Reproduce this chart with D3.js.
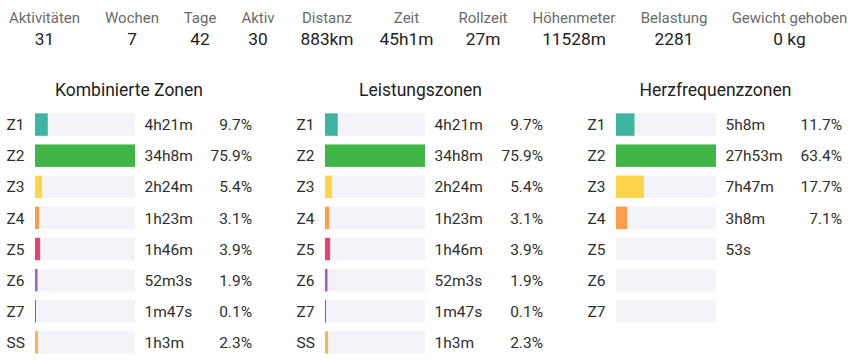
<!DOCTYPE html>
<html>
<head>
<meta charset="utf-8">
<script src="https://cdn.jsdelivr.net/npm/d3@7"></script>
<style>
  html, body { margin: 0; padding: 0; background: #fff; }
  svg { display: block; font-family: Roboto, "Noto Sans", sans-serif; }
</style>
</head>
<body>
<div id="chart"></div>
<script>
// summary row
const summaryLabels = ["Aktivitäten", "Wochen", "Tage", "Aktiv", "Distanz", "Zeit", "Rollzeit", "Höhenmeter", "Belastung", "Gewicht gehoben"];
const summaryValues = ["31", "7", "42", "30", "883km", "45h1m", "27m", "11528m", "2281", "0 kg"];

// zone panels
const zoneLabels = ["Z1", "Z2", "Z3", "Z4", "Z5", "Z6", "Z7", "SS"];
const hrZoneLabels = ["Z1", "Z2", "Z3", "Z4", "Z5", "Z6", "Z7"];

const combinedTimes = ["4h21m", "34h8m", "2h24m", "1h23m", "1h46m", "52m3s", "1m47s", "1h3m"];
const combinedPct = [9.7, 75.9, 5.4, 3.1, 3.9, 1.9, 0.1, 2.3];

const powerTimes = ["4h21m", "34h8m", "2h24m", "1h23m", "1h46m", "52m3s", "1m47s", "1h3m"];
const powerPct = [9.7, 75.9, 5.4, 3.1, 3.9, 1.9, 0.1, 2.3];

const hrTimes = ["5h8m", "27h53m", "7h47m", "3h8m", "53s", "", ""];
const hrPct = [11.7, 63.4, 17.7, 7.1, null, null, null];

const panelTitles = ["Kombinierte Zonen", "Leistungszonen", "Herzfrequenzzonen"];

const zoneColors = {
    Z1: "#3db5a0", Z2: "#3eb544", Z3: "#fdd54a", Z4: "#fd9c4b",
    Z5: "#e5436f", Z6: "#9461d9", Z7: "#6e6a80", SS: "#fdb44b"
};

const width = 862, height = 361;
const svg = d3.select("#chart").append("svg")
    .attr("width", width)
    .attr("height", height);

// ---- summary row (column centres follow the inline layout of the page)
const summaryX = [44.5, 132, 200, 258, 327, 406.5, 483, 574, 674, 789.5];
const summary = svg.selectAll("g.stat")
    .data(summaryLabels.map((label, i) => ({ label, value: summaryValues[i] })))
    .enter()
    .append("g")
    .attr("class", "stat")
    .attr("transform", (d, i) => `translate(${summaryX[i]},0)`);

summary.append("text")
    .attr("y", 22.5)
    .attr("text-anchor", "middle")
    .attr("font-size", 15)
    .attr("fill", "#6b6b6b")
    .text(d => d.label);

summary.append("text")
    .attr("y", 45)
    .attr("text-anchor", "middle")
    .attr("font-size", 17.3)
    .attr("fill", "#222")
    .text(d => d.value);

// ---- zone panels
const panels = [
    { title: panelTitles[0], zones: zoneLabels, times: combinedTimes, pct: combinedPct },
    { title: panelTitles[1], zones: zoneLabels, times: powerTimes, pct: powerPct },
    { title: panelTitles[2], zones: hrZoneLabels, times: hrTimes, pct: hrPct }
];
// layout per panel: bar start, title offset, percent column offset
const layout = [
    { x: 35, title: 94, pctRight: 217 },
    { x: 325, title: 95.5, pctRight: 218 },
    { x: 616, title: 99.5, pctRight: 226 }
];

const barW = 100;
const y = d3.scaleBand()
    .domain(zoneLabels)
    .range([109, 358])
    .paddingInner(0.28)
    .paddingOuter(0.14);

panels.forEach((p, i) => {
    const L = layout[i];
    const g = svg.append("g").attr("transform", `translate(${L.x},0)`);

    const x = d3.scaleLinear()
        .domain([0, d3.max(p.pct, d => d || 0)])
        .range([0, barW]);

    g.append("text")
        .attr("x", L.title)
        .attr("y", 95.5)
        .attr("text-anchor", "middle")
        .attr("font-size", 17.5)
        .attr("fill", "#222")
        .text(p.title);

    const rows = g.selectAll("g.row")
        .data(p.zones.map((z, k) => ({ zone: z, time: p.times[k], pct: p.pct[k] })))
        .enter()
        .append("g")
        .attr("class", "row")
        .attr("transform", d => `translate(0,${y(d.zone)})`);

    rows.append("text")
        .attr("x", -28.5)
        .attr("y", y.bandwidth() / 2)
        .attr("dy", "0.36em")
        .attr("font-size", 15.5)
        .attr("fill", "#2e2e2e")
        .text(d => d.zone);

    rows.append("rect")
        .attr("width", barW)
        .attr("height", y.bandwidth())
        .attr("fill", "#f3f3f9");

    rows.filter(d => d.pct != null)
        .append("rect")
        .attr("width", d => Math.max(1, x(d.pct)))
        .attr("height", y.bandwidth())
        .attr("fill", d => zoneColors[d.zone]);

    rows.append("text")
        .attr("x", 109.5)
        .attr("y", y.bandwidth() / 2)
        .attr("dy", "0.36em")
        .attr("font-size", 15.5)
        .attr("fill", "#2e2e2e")
        .text(d => d.time);

    rows.append("text")
        .attr("x", L.pctRight)
        .attr("y", y.bandwidth() / 2)
        .attr("dy", "0.36em")
        .attr("text-anchor", "end")
        .attr("font-size", 15.5)
        .attr("fill", "#2e2e2e")
        .text(d => d.pct == null ? "" : d.pct.toFixed(1) + "%");
});
</script>
</body>
</html>
